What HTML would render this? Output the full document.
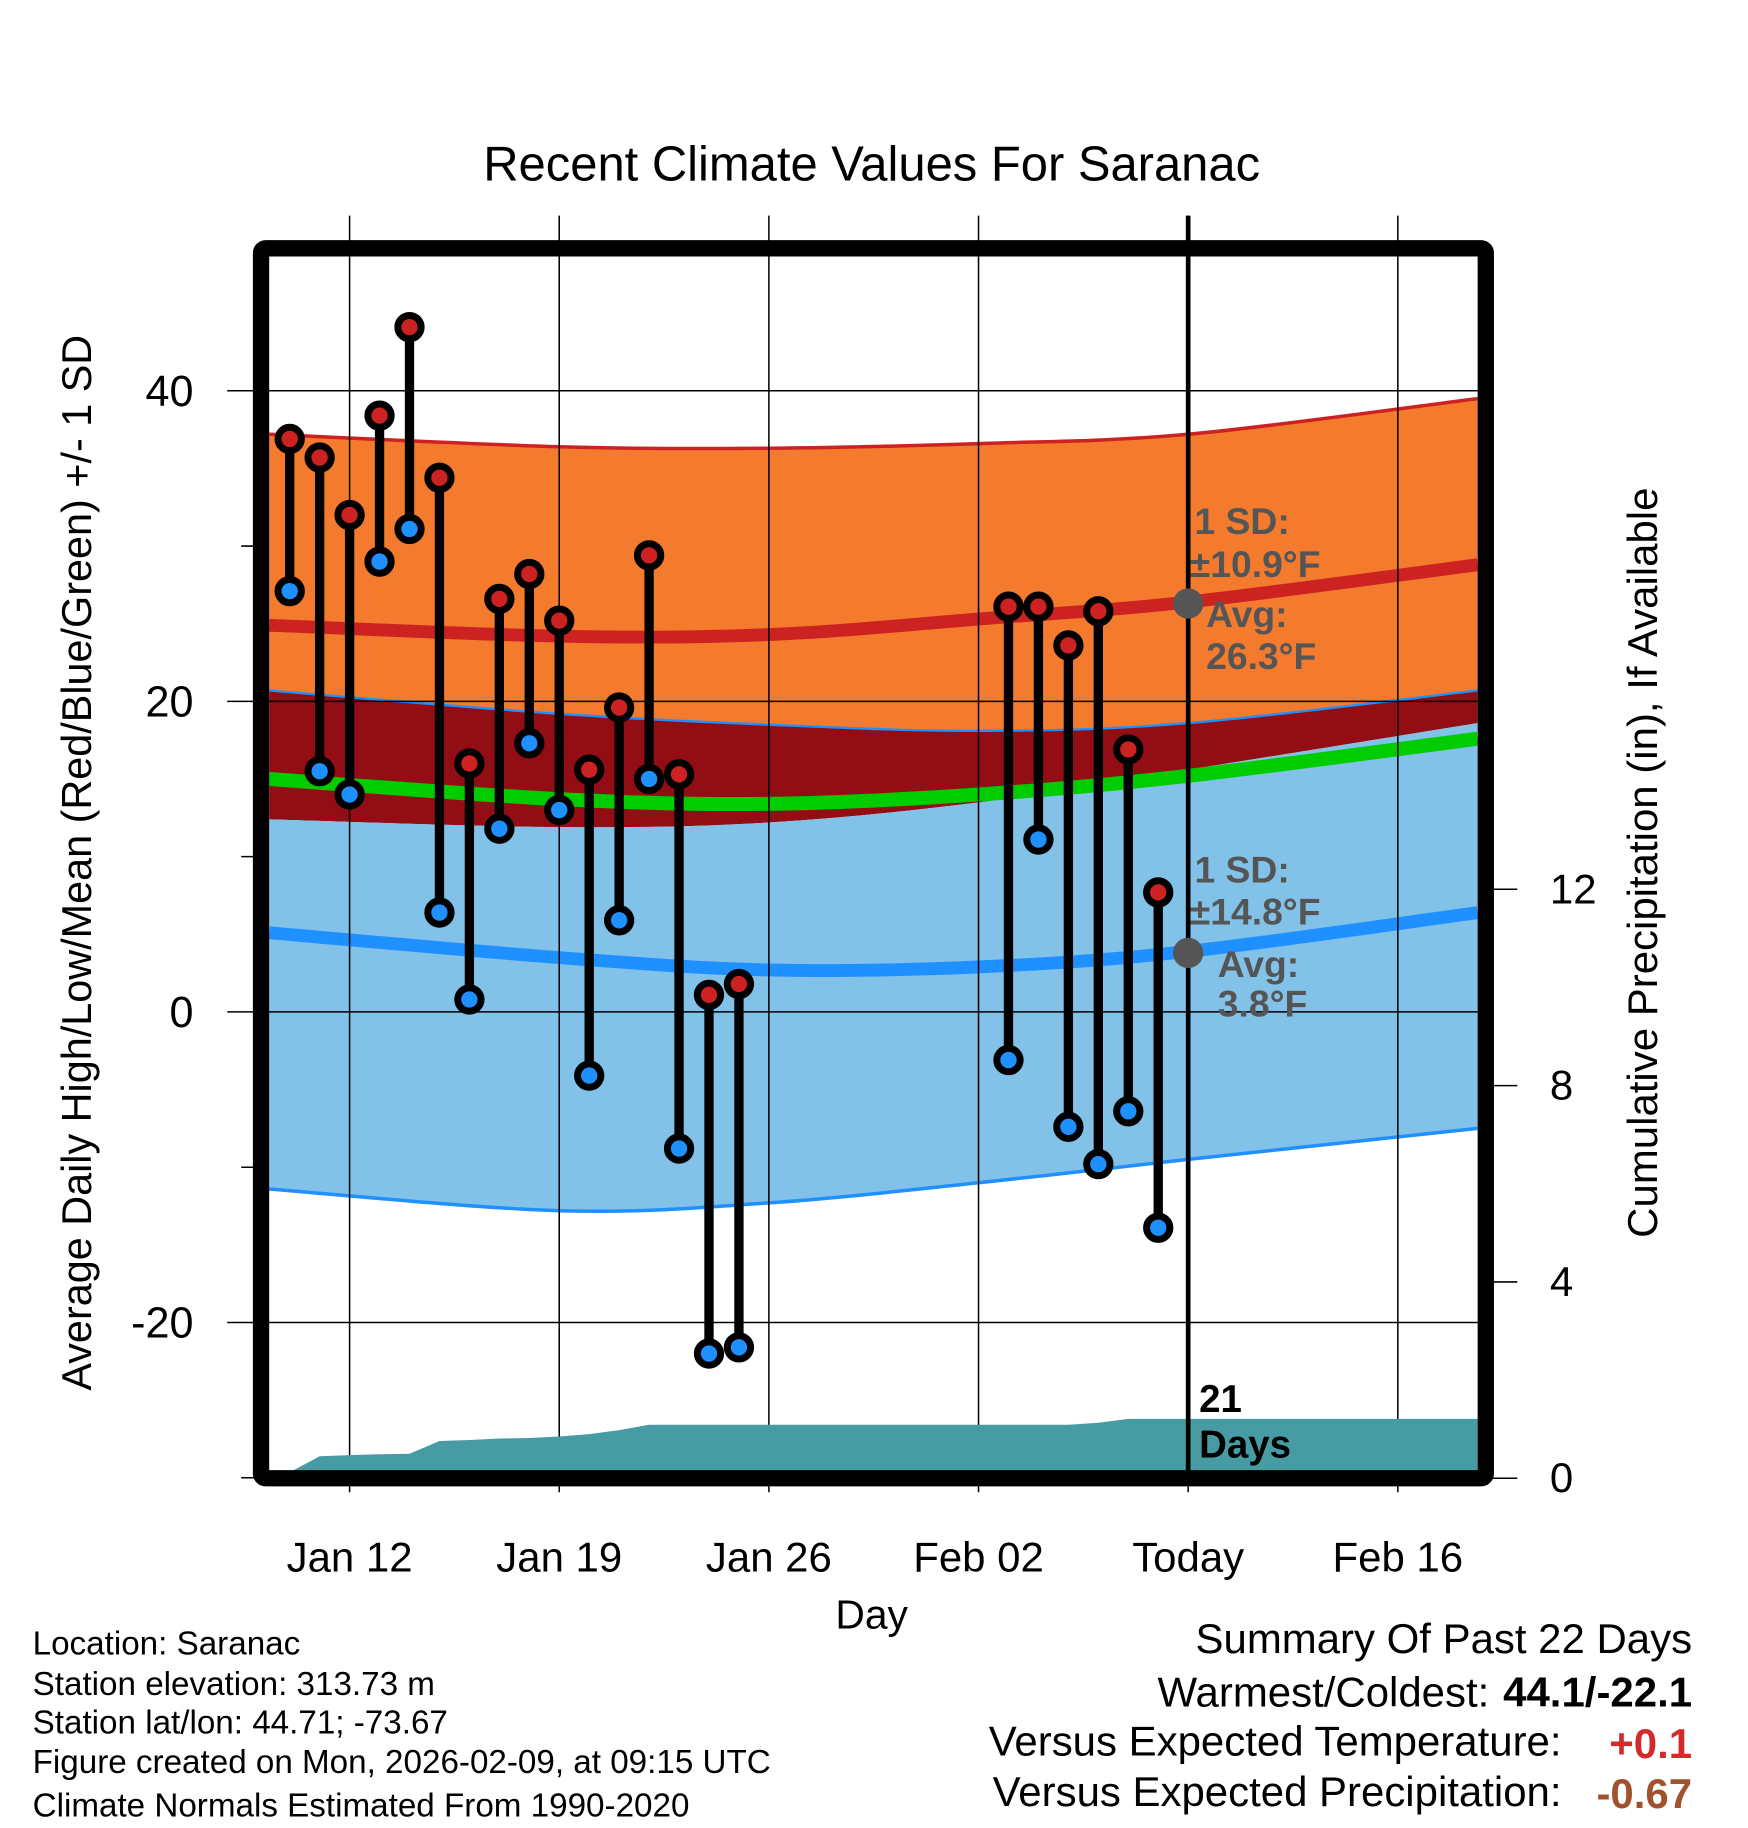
<!DOCTYPE html>
<html><head><meta charset="utf-8"><style>
html,body{margin:0;padding:0;background:#fff;}
svg{display:block;font-family:"Liberation Sans",Arial,sans-serif;}
</style></head><body>
<svg id="chart" width="1748" height="1828" viewBox="0 0 1500 1568" preserveAspectRatio="none" xmlns="http://www.w3.org/2000/svg">
<g id="bands"></g>
<g id="grid"></g>
<g id="precip"></g>
<g id="marks"></g>
<g id="axes"></g>
<text x="748" y="155" font-size="42" text-anchor="middle">Recent Climate Values For Saranac</text>
<text transform="translate(78,740) rotate(-90)" font-size="35.5" text-anchor="middle">Average Daily High/Low/Mean (Red/Blue/Green) +/- 1 SD</text>
<text transform="translate(1422,740) rotate(-90)" font-size="36" text-anchor="middle">Cumulative Precipitation (in), If Available</text>
<text x="748" y="1397" font-size="35" text-anchor="middle">Day</text>
<g font-size="32" font-weight="bold" fill="#555">
<text x="1025" y="458">1 SD:</text>
<text x="1021" y="495">±10.9°F</text>
<text x="1035" y="538">Avg:</text>
<text x="1035" y="574">26.3°F</text>
</g>
<g font-size="32" font-weight="bold" fill="#555">
<text x="1025" y="757">1 SD:</text>
<text x="1021" y="793">±14.8°F</text>
<text x="1045" y="838">Avg:</text>
<text x="1045" y="872">3.8°F</text>
</g>
<g font-size="33" font-weight="bold">
<text x="1029" y="1211">21</text>
<text x="1029" y="1250">Days</text>
</g>
<g font-size="28.5">
<text x="28" y="1419">Location: Saranac</text>
<text x="28" y="1454">Station elevation: 313.73 m</text>
<text x="28" y="1487">Station lat/lon: 44.71; -73.67</text>
<text x="28" y="1521">Figure created on Mon, 2026-02-09, at 09:15 UTC</text>
<text x="28" y="1558">Climate Normals Estimated From 1990-2020</text>
</g>
<g font-size="36">
<text x="1452" y="1418" text-anchor="end">Summary Of Past 22 Days</text>
<text x="1278" y="1464" text-anchor="end">Warmest/Coldest:</text>
<text x="1452" y="1464" text-anchor="end" font-weight="bold">44.1/-22.1</text>
<text x="1340" y="1506" text-anchor="end">Versus Expected Temperature:</text>
<text x="1452" y="1508" text-anchor="end" font-weight="bold" fill="#d42a2a">+0.1</text>
<text x="1340" y="1549" text-anchor="end">Versus Expected Precipitation:</text>
<text x="1452" y="1551" text-anchor="end" font-weight="bold" fill="#a0522d">-0.67</text>
</g>
</svg>
<script>
// days relative to Jan 12 (0)
const obsDays = [-2,-1,0,1,2,3,4,5,6,7,8,9,10,11,12,13,22,23,24,25,26,27];
const highs = [36.9,35.7,32.0,38.4,44.1,34.4,16.0,26.6,28.2,25.2,15.6,19.6,29.4,15.3,1.1,1.8,26.1,26.1,23.6,25.8,16.9,7.7];
const lows = [27.1,15.5,14.0,29.0,31.1,6.4,0.8,11.8,17.3,13.0,-4.1,5.9,15.0,-8.8,-22.0,-21.6,-3.1,11.1,-7.4,-9.8,-6.4,-13.9];
const normDays = [-2.7,7,14,21,28,37.7];
const normHigh = [24.9,24.2,24.3,25.3,26.4,28.8];
const normHighTop = [37.2,36.4,36.3,36.6,37.2,39.5];
const normHighBot = [12.4,11.9,12.2,13.5,15.6,18.6];
const normLow = [5.1,3.5,2.7,2.9,3.9,6.4];
const normLowTop = [20.7,19.2,18.5,18.1,18.6,20.7];
const normLowBot = [-11.4,-12.8,-12.3,-11.0,-9.5,-7.5];
const normMean = [15.0,13.7,13.4,14.0,15.2,17.6];
const precipDays = [-2.7,-2,-1,0,1,2,3,4,5,6,7,8,9,10,11,24,25,26,37.7];
const precipVals = [0,0.12,0.45,0.47,0.49,0.5,0.76,0.78,0.81,0.82,0.85,0.9,0.98,1.09,1.09,1.09,1.13,1.21,1.21];
const xTickDays = [0,7,14,21,28,35];
const xTickLabels = ["Jan 12","Jan 19","Jan 26","Feb 02","Today","Feb 16"];
const yTicks = [40,20,0,-20];
const yMinor = [30,10,-10,-30];
const pTicks = [0,4,8,12];
const todayDay = 28;

const NS="http://www.w3.org/2000/svg";
const X0=231,X1=1268;
const xs=d=>300+d*25.7;
const ys=v=>868-v*13.32;
const ps=v=>1268-v*42.1;
function mk(tag,attrs,parent){const e=document.createElementNS(NS,tag);for(const k in attrs)e.setAttribute(k,attrs[k]);parent.appendChild(e);return e;}
function curve(vals){return normDays.map((d,i)=>[Math.max(X0,Math.min(X1,xs(d))),ys(vals[i])]);}
function cr(a){let s="";for(let i=0;i<a.length-1;i++){const p0=a[Math.max(0,i-1)],p1=a[i],p2=a[i+1],p3=a[Math.min(a.length-1,i+2)];
const c1=[p1[0]+(p2[0]-p0[0])/6,p1[1]+(p2[1]-p0[1])/6],c2=[p2[0]-(p3[0]-p1[0])/6,p2[1]-(p3[1]-p1[1])/6];
s+=" C"+c1[0].toFixed(1)+","+c1[1].toFixed(1)+" "+c2[0].toFixed(1)+","+c2[1].toFixed(1)+" "+p2[0].toFixed(1)+","+p2[1].toFixed(1);}return s;}
function line(a){return "M"+a[0][0]+","+a[0][1]+cr(a);}
function band(t,b){const r=b.slice().reverse();return line(t)+" L"+r[0][0]+","+r[0][1]+cr(r)+" Z";}
const bands=document.getElementById('bands');
const hiTop=curve(normHighTop),hiBot=curve(normHighBot),loTop=curve(normLowTop),loBot=curve(normLowBot);
let e;
e=mk('path',{d:band(hiTop,loTop),fill:'#f47a2e'},bands);


e=mk('path',{d:band(loTop,hiBot),fill:'#920e14'},bands);


e=mk('path',{d:band(hiBot,loBot),fill:'#82c1e8'},bands);


const lines=[[hiTop,'#cc2222',3,'high-plus-sd-line'],[loTop,'#1e90ff',2,'low-plus-sd-line'],[loBot,'#1e90ff',3,'low-minus-sd-line'],[curve(normHigh),'#cc2222',11,'normal-high-line'],[curve(normLow),'#1e90ff',11,'normal-low-line'],[curve(normMean),'#00cc00',12,'normal-mean-line']];
lines.forEach(l=>{e=mk('path',{d:line(l[0]),fill:'none',stroke:l[1],'stroke-width':l[2]},bands);

});

const grid=document.getElementById('grid');
xTickDays.forEach(d=>{e=mk('line',{x1:xs(d),x2:xs(d),y1:185,y2:1280,stroke:'#000','stroke-width':1.3},grid);

});
yTicks.forEach(v=>{e=mk('line',{x1:195,x2:X1,y1:ys(v),y2:ys(v),stroke:'#000','stroke-width':1.3},grid);

});
yMinor.forEach(v=>{e=mk('line',{x1:207,x2:224,y1:ys(v),y2:ys(v),stroke:'#000','stroke-width':1.3},grid);

});

const pg=document.getElementById('precip');
let pp=precipDays.map((d,i)=>[Math.max(X0,Math.min(X1,xs(d))),ps(precipVals[i])]);
let pd="M"+X0+",1268 L"+pp.map(p=>p[0].toFixed(1)+","+p[1].toFixed(1)).join(" L")+" L"+X1+",1268 Z";
e=mk('path',{d:pd,fill:'#479ca4'},pg);



const marks=document.getElementById('marks');
e=mk('line',{x1:xs(todayDay),x2:xs(todayDay),y1:185,y2:1262,stroke:'#000','stroke-width':4},marks);


obsDays.forEach((d,i)=>{
 const x=xs(d);
 e=mk('line',{x1:x,x2:x,y1:ys(highs[i]),y2:ys(lows[i]),stroke:'#000','stroke-width':8},marks);
 
 
 e=mk('circle',{cx:x,cy:ys(highs[i]),r:10,fill:'#cc2222',stroke:'#000','stroke-width':6},marks);
 
 
 e=mk('circle',{cx:x,cy:ys(lows[i]),r:10,fill:'#1e90ff',stroke:'#000','stroke-width':6},marks);
 
 
});
e=mk('circle',{cx:xs(todayDay),cy:ys(26.3),r:13,fill:'#555'},marks);


e=mk('circle',{cx:xs(todayDay),cy:ys(3.8),r:13,fill:'#555'},marks);



const ax=document.getElementById('axes');
e=mk('rect',{x:224,y:213,width:1051,height:1055,fill:'none',stroke:'#000','stroke-width':14,rx:4},ax);


yTicks.forEach(v=>{e=mk('text',{x:166,y:ys(v)+13,'font-size':37,'text-anchor':'end'},ax);e.textContent=v;

});
pTicks.forEach(v=>{e=mk('line',{x1:1275,x2:1302,y1:ps(v),y2:ps(v),stroke:'#000','stroke-width':1.3},ax);


e=mk('text',{x:1330,y:ps(v)+12,'font-size':36,'text-anchor':'start'},ax);e.textContent=v;

});
xTickDays.forEach((d,i)=>{e=mk('text',{x:xs(d),y:1348,'font-size':36,'text-anchor':'middle'},ax);e.textContent=xTickLabels[i];

});
</script>
</body></html>
